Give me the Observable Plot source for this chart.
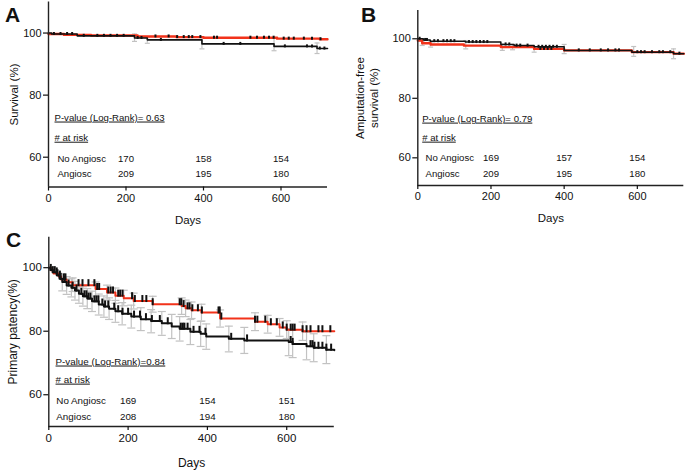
<!DOCTYPE html>
<html><head><meta charset="utf-8">
<script src="https://cdn.jsdelivr.net/npm/d3@7"></script>
<script src="https://cdn.jsdelivr.net/npm/@observablehq/plot@0.6"></script>
<style>
body{margin:0;background:#fff;}
#wrap{position:relative;width:685px;height:472px;overflow:hidden;font-family:"Liberation Sans",Arial,Helvetica,sans-serif;color:#111;}
.panel{position:absolute;}
.letter{position:absolute;font-weight:bold;font-size:21px;line-height:1;}
</style></head><body><div id="wrap"></div>
<script>
// ---------- shared ----------
const xTicks = [0, 200, 400, 600];
const yTicks = [60, 80, 100];
const groups = ["No Angiosc", "Angiosc"];
const atRiskDays = [200, 400, 600];

// ---------- Panel A : Survival ----------
const aRed = [[0,99.7],[40,99.4],[110,99.2],[230,98.9],[330,98.7],[400,98.5],[590,98.2],[700,98.0],[720,98.0]];
const aBlack = [[0,100],[8,99.7],[74,99.1],[222,98.4],[255,97.8],[396,96.5],[582,95.7],[693,95.0],[720,95.0]];
const aErr = [[222,97.3,99.7],[255,96.7,98.8],[396,94.9,98.8],[582,94.3,98.3],[693,93.4,96.8]];
const aCensBlack = [14,31,48,61,91,126,143,160,177,194,230,240,290,452,495,610,667,680,700,712];
const aCensRed = [276,310,332,349,362,371,392,427,435,521,538,556,569,581,607,620,633,659,680,702];
const aRiskNo = [170,158,154];
const aRiskYes = [209,195,180];
const aP = "P-value (Log-Rank)= 0.63";

// ---------- Panel B : Amputation-free survival ----------
const bRed = [[0,99.4],[12,98.5],[35,98.1],[126,97.7],[227,97.2],[318,96.6],[400,96.1],[585,95.5],[699,95.0],[727,95.0]];
const bBlack = [[0,100],[15,99.6],[34,99.2],[130,98.9],[227,98.1],[263,97.7],[318,97.3],[400,96.1],[585,95.5],[699,95.0],[727,95.0]];
const bErr = [[12,97.75,99.2],[35,97.2,98.9],[131,96.6,99.4],[231,96.1,98.3],[259,96.3,98.1],[318,95.5,97.4],[400,95.0,98.1],[590,94.1,97.4],[699,93.3,96.6]];
const bCensBlack = [5,20,25,45,55,70,80,90,100,140,150,160,170,180,190,240,250,270,280,300,330,340,350,360,370,380,440,470,500,520,540,550,600,610,620,640,660,670,690,715];
const bCensRed = [335,345,355,365];
const bRiskNo = [169,157,154];
const bRiskYes = [209,195,180];
const bP = "P-value (Log-Rank)= 0.79";

// ---------- Panel C : Primary patency ----------
const cRed = [[0,100],[5,99.2],[12,98.2],[25,97.2],[31,96.3],[45,95.4],[60,94.5],[118,93.3],[147,92.2],[168,91.2],[189,90.4],[214,89.5],[262,88.5],[335,87.9],[345,87.2],[360,86.6],[385,85.9],[432,84.0],[520,83.0],[552,82.2],[582,81.2],[600,80.5],[640,80.0],[720,80.0]];
const cBlack = [[0,100],[4,99.3],[10,98.6],[20,97.6],[27,96.5],[34,95.5],[45,94.4],[57,93.7],[66,92.8],[76,91.8],[86,91.0],[97,90.3],[109,89.4],[126,88.4],[139,87.8],[152,87.1],[168,86.3],[185,85.5],[208,84.6],[232,83.8],[258,83.2],[285,82.5],[310,81.5],[330,80.8],[357,79.8],[383,79.2],[397,78.3],[454,77.6],[493,77.1],[605,76.6],[615,76.0],[650,75.3],[668,74.8],[700,74.2],[720,74.0]];
const cErrRed = [[60,92.5,96.8],[118,91,95.5],[147,89.8,94.5],[168,88.8,93.6],[189,88,92.9],[214,87,92],[262,86,91],[335,85.3,90.5],[345,84.6,89.8],[360,84,89.2],[385,83.2,88.5],[432,81.3,86.7],[520,80.2,85.8],[552,79.4,85],[582,78.4,84],[600,77.7,83.3],[640,77.1,82.9]];
const cErrBlack = [[34,92.7,98.1],[45,91.6,97.2],[57,90.8,96.5],[66,89.8,95.7],[76,88.8,94.8],[86,87.9,94],[97,87.1,93.4],[109,86.2,92.6],[126,85.1,91.7],[139,84.4,91.1],[152,83.7,90.5],[168,82.8,89.7],[185,82,89],[208,81,88.2],[232,80.2,87.4],[258,79.5,86.8],[285,78.7,86.2],[310,77.7,85.3],[330,76.9,84.6],[357,75.8,83.7],[383,75.2,83.1],[397,74.3,82.3],[454,73.5,81.6],[493,73,81.2],[605,72.3,80.8],[615,71.7,80.3],[650,71,79.7],[668,70.4,79.2],[700,69.8,78.6]];
const cCensRed = [20,28,38,42,75,85,100,115,122,127,150,156,162,175,180,186,210,217,236,246,262,330,334,340,350,355,362,376,386,428,431,435,520,526,546,560,575,590,600,610,615,620,640,650,660,680,690,710];
const cCensBlack = [5,10,15,22,30,40,50,60,70,82,90,95,100,105,115,120,125,135,142,150,165,175,186,200,215,230,245,260,280,300,333,338,342,350,365,380,395,460,500,610,615,660,665,670,680,690,700,712];
const cRiskNo = [169,154,151];
const cRiskYes = [208,194,180];
const cP = "P-value (Log-Rank)=0.84";

// ---------- helpers ----------
const RED = "#f2321a", BLACK = "#111", GREY = "#c2c2c2";
const FONT = "'Liberation Sans', Arial, Helvetica, sans-serif";
function stepAt(curve, d) { let v = curve[0][1]; for (const [t, s] of curve) { if (t <= d) v = s; else break; } return v; }
const tickSym = h => ({draw(c) { c.moveTo(0, 1); c.lineTo(0, -h); }});
const capSym = w => ({draw(c) { c.moveTo(-w / 2, 0); c.lineTo(w / 2, 0); }});

function panel(cfg) {
  const marks = [];
  for (const err of cfg.errs) {
    marks.push(Plot.ruleX(err, {x: d => d[0], y1: d => d[1], y2: d => d[2], stroke: GREY, strokeWidth: 1.2}));
    marks.push(Plot.dot(err, {x: d => d[0], y: d => d[1], symbol: capSym(cfg.capW), stroke: GREY, fill: "none", strokeWidth: 1.2}));
    marks.push(Plot.dot(err, {x: d => d[0], y: d => d[2], symbol: capSym(cfg.capW), stroke: GREY, fill: "none", strokeWidth: 1.2}));
  }
  marks.push(Plot.line(cfg.red, {x: d => d[0], y: d => d[1], curve: "step-after", stroke: RED, strokeWidth: cfg.redW}));
  marks.push(Plot.line(cfg.black, {x: d => d[0], y: d => d[1], curve: "step-after", stroke: BLACK, strokeWidth: cfg.blackW}));
  marks.push(Plot.dot(cfg.censRed, {x: d => d, y: d => stepAt(cfg.red, d), symbol: tickSym(cfg.tickH), stroke: BLACK, fill: "none", strokeWidth: cfg.tickW}));
  marks.push(Plot.dot(cfg.censBlack, {x: d => d, y: d => stepAt(cfg.black, d), symbol: tickSym(cfg.tickH), stroke: BLACK, fill: "none", strokeWidth: cfg.tickW}));
  // axes
  marks.push(Plot.ruleX([cfg.xDomain[0]], {stroke: "#222", strokeWidth: 1.4}));
  marks.push(Plot.ruleY([cfg.yDomain[0]], {stroke: "#222", strokeWidth: 1.4}));
  marks.push(Plot.axisY({ticks: yTicks, tickSize: 5, tickPadding: 2, label: null, fontSize: cfg.tickFont, strokeWidth: 1.2}));
  marks.push(Plot.axisX({ticks: xTicks, tickSize: 4, tickPadding: 3, label: null, fontSize: cfg.tickFont, strokeWidth: 1.2}));
  marks.push(Plot.text([cfg.yLabel], {frameAnchor: "left", dx: cfg.yLabelDx, rotate: -90, textAnchor: "middle", lineAnchor: "middle", fontSize: cfg.labelFont, lineHeight: 1.15}));
  marks.push(Plot.text(["Days"], {frameAnchor: "bottom", dy: cfg.daysDy, textAnchor: "middle", lineAnchor: "middle", fontSize: cfg.labelFont}));
  // annotations
  marks.push(Plot.text([cfg.p], {x: cfg.pX, y: cfg.pY, textAnchor: "start", fontSize: cfg.annFont}));
  marks.push(Plot.text(["# at risk"], {x: cfg.pX, y: cfg.hdrY, textAnchor: "start", fontSize: cfg.annFont}));
  marks.push(Plot.text([groups[0]], {x: cfg.rowX, y: cfg.row1Y, textAnchor: "start", fontSize: cfg.annFont}));
  marks.push(Plot.text([groups[1]], {x: cfg.rowX, y: cfg.row2Y, textAnchor: "start", fontSize: cfg.annFont}));
  marks.push(Plot.text(cfg.riskNo, {x: (d, i) => atRiskDays[i], y: cfg.row1Y, text: d => String(d), fontSize: cfg.annFont}));
  marks.push(Plot.text(cfg.riskYes, {x: (d, i) => atRiskDays[i], y: cfg.row2Y, text: d => String(d), fontSize: cfg.annFont}));

  const svg = Plot.plot({
    width: cfg.width, height: cfg.height,
    marginLeft: cfg.ml, marginRight: cfg.mr, marginTop: cfg.mt, marginBottom: cfg.mb,
    x: {domain: cfg.xDomain},
    y: {domain: cfg.yDomain},
    style: {fontFamily: FONT, fontSize: "11px", color: "#111", background: "transparent", overflow: "visible"},
    marks
  });
  svg.querySelectorAll("text").forEach(t => {
    const s = t.textContent;
    if (s.startsWith("P-value") || s.startsWith("# at")) t.setAttribute("text-decoration", "underline");
  });
  const div = document.createElement("div");
  div.className = "panel";
  div.style.left = cfg.left + "px";
  div.style.top = cfg.top + "px";
  div.appendChild(svg);
  document.getElementById("wrap").appendChild(div);
}

panel({left: 0, top: 0, width: 340, height: 230, ml: 48, mr: 13, mt: 1.5, mb: 43.5,
  xDomain: [0, 720], yDomain: [50.4, 110],
  red: aRed, black: aBlack, errs: [aErr], censRed: aCensRed, censBlack: aCensBlack,
  redW: 2.4, blackW: 1.6, tickH: 2, tickW: 2, capW: 5,
  yLabel: "Survival (%)", yLabelDx: -35, daysDy: 33.5, tickFont: 11, labelFont: 11.5, annFont: 9.6,
  p: aP, pX: 15.5, pY: 72.8, hdrY: 66.3, rowX: 23, row1Y: 59.5, row2Y: 54.7,
  riskNo: aRiskNo, riskYes: aRiskYes});

panel({left: 340, top: 0, width: 345, height: 230, ml: 77.3, mr: 1.7, mt: 10, mb: 45,
  xDomain: [0, 727], yDomain: [50.7, 109.5],
  red: bRed, black: bBlack, errs: [bErr], censRed: bCensRed, censBlack: bCensBlack,
  redW: 2.4, blackW: 1.5, tickH: 2, tickW: 2, capW: 5,
  yLabel: "Amputation-free\nsurvival (%)", yLabelDx: -51, daysDy: 33, tickFont: 11, labelFont: 11.5, annFont: 9.6,
  p: bP, pX: 12, pY: 73.2, hdrY: 66.8, rowX: 21, row1Y: 59.8, row2Y: 54.7,
  riskNo: bRiskNo, riskYes: bRiskYes});

panel({left: 0, top: 225, width: 340, height: 247, ml: 48.3, mr: 6.2, mt: 11.7, mb: 46,
  xDomain: [0, 720], yDomain: [50, 109.6],
  red: cRed, black: cBlack, errs: [cErrRed, cErrBlack], censRed: cCensRed, censBlack: cCensBlack,
  redW: 2, blackW: 2, tickH: 6, tickW: 2, capW: 8,
  yLabel: "Primary patency(%)", yLabelDx: -36, daysDy: 37, tickFont: 11.5, labelFont: 12, annFont: 9.8,
  p: cP, pX: 17, pY: 70.5, hdrY: 64.8, rowX: 19, row1Y: 58.0, row2Y: 52.9,
  riskNo: cRiskNo, riskYes: cRiskYes});

// panel letters
[["A", 5, 4], ["B", 361, 4], ["C", 6, 229]].forEach(([t, x, y]) => {
  const d = document.createElement("div");
  d.className = "letter"; d.textContent = t;
  d.style.left = x + "px"; d.style.top = y + "px";
  document.getElementById("wrap").appendChild(d);
});
</script>
</body></html>
